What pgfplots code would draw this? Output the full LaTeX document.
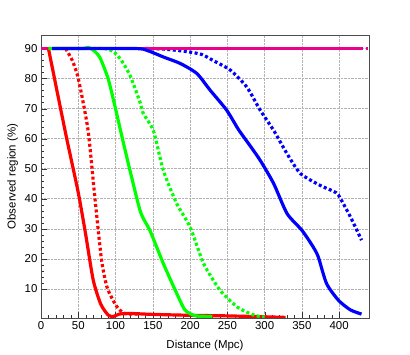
\documentclass[border=0pt]{standalone}
\usepackage{fontspec}
\setmainfont{Liberation Sans}
\usepackage{pgfplots}
\pgfplotsset{compat=1.18}

\begin{document}
\begin{tikzpicture}
\begin{axis}[
scale only axis,
width=328bp,
height=283bp,
xmin=0, xmax=440,
ymin=0.3, ymax=94.5,
xtick={0,50,...,400},
ytick={10,20,...,90},
minor x tick num=4,
minor y tick num=4,
tick pos=left,
tick align=inside,
major tick length=6bp,
minor tick length=3bp,
grid=major,
major grid style={densely dotted, gray!60, line width=0.5bp},
axis line style={black!70},
tick style={black!80},
xlabel={Distance (Mpc)},
ylabel={Observed region (\%)},
font=\fontsize{11.5}{13}\selectfont,
/pgf/number format/assume math mode=true,
xlabel style={yshift=-4bp},
ylabel style={yshift=0bp},
]

% blue dotted (under magenta)
\addplot[blue, line width=3.2bp, dash pattern=on 3bp off 2.5bp, smooth, tension=0.4] coordinates {
(140,90)(165,89.8)(185,89.3)(200,88.8)(216,88)(231,86)(254,82.8)(276,77.2)(294,69.5)(312,62.8)(330,55)(348,48.4)(374,44.5)(392,42.5)(399,41.2)(415,34)(430,26.2)};

% magenta
\addplot[magenta, line width=3.2bp] coordinates {(0,90)(430,90)};
\addplot[magenta, line width=3.2bp, dash pattern=on 3bp off 2.5bp] coordinates {(0,90)(438,90)};

% red solid
\addplot[red, line width=3.2bp, smooth, tension=0.4] coordinates {
(10,90)(23,74)(34.5,60)(50,42)(60,28)(70,13)(80,5)(90,1.3)(97,0.8)(105,1.6)(120,1.8)(150,1.5)(200,1.2)(250,1)(300,0.7)(328,0.5)};
% red dotted
\addplot[red, line width=3.2bp, dash pattern=on 3bp off 2.5bp, smooth, tension=0.4] coordinates {
(33,90)(42,86)(50,80)(63,63)(72,41)(81,20)(88,11)(95,7)(102,4)(110,2)(118,1.6)(130,1.6)};

% green solid
\addplot[green, line width=3.2bp, smooth, tension=0.4] coordinates {
(10,90)(55,90)(63,90.4)(70,89.5)(79,87)(90,80)(99,71)(113,56)(133,36)(146,29.5)(164,18.5)(180,9.6)(193,3)(205,1.2)(213,0.9)(230,0.8)};
% green dotted
\addplot[green, line width=3.2bp, dash pattern=on 3bp off 2.5bp, smooth, tension=0.4] coordinates {
(70,90)(85,90)(97,89)(108,86)(119.5,81)(133,72)(137,68.5)(151,62.5)(164,49.5)(182,38.4)(200,30.6)(218,18.5)(240,9.6)(263,4)(280,1.8)(290,1)(300,0.6)};

% blue solid
\addplot[blue, line width=3.2bp, smooth, tension=0.4] coordinates {
(15,90)(125,90)(142,89.4)(164,87.2)(187,85)(209,81.7)(227,76.1)(249,69.5)(265,63)(280,57.8)(294,52.8)(312,45.1)(330,35.1)(350,29.5)(365,24)(372,20.6)(383,11.8)(399,6.2)(415,3)(430,1.6)};

\end{axis}
\useasboundingbox (current axis.south west) ++(-41bp,-36bp) rectangle ++(410bp,354bp);
\end{tikzpicture}
\end{document}
